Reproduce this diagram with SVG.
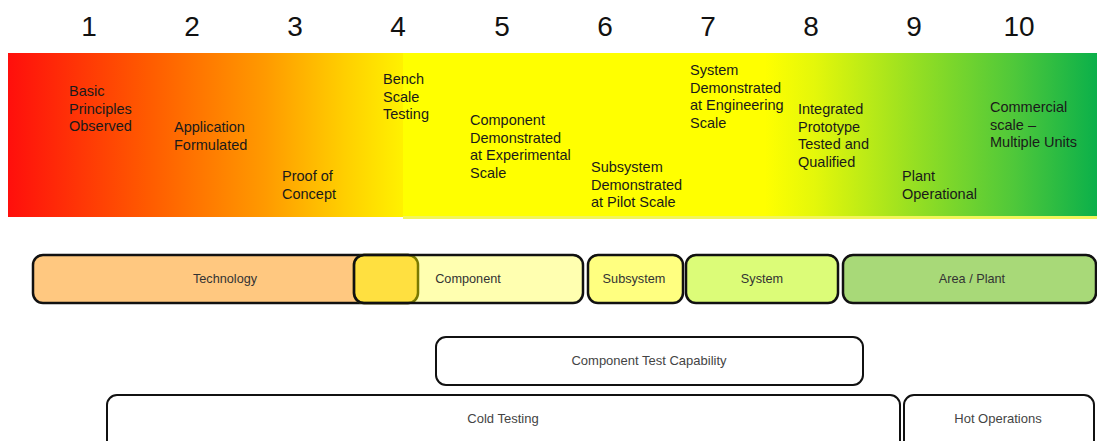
<svg xmlns="http://www.w3.org/2000/svg" width="1097" height="441" viewBox="0 0 1097 441">
<defs>
<linearGradient id="gL" x1="0" y1="0" x2="1" y2="0">
<stop offset="0" stop-color="#ff0f0c"/>
<stop offset="0.35" stop-color="#ff5a00"/>
<stop offset="0.65" stop-color="#ff9a00"/>
<stop offset="0.85" stop-color="#ffcf00"/>
<stop offset="1" stop-color="#fff200"/>
</linearGradient>
<linearGradient id="gR" x1="0" y1="0" x2="1" y2="0">
<stop offset="0" stop-color="#ffff00"/>
<stop offset="0.15" stop-color="#e4f70a"/>
<stop offset="0.45" stop-color="#96df22"/>
<stop offset="0.75" stop-color="#4fc83a"/>
<stop offset="1" stop-color="#0bb04a"/>
</linearGradient>
<style>
.num{font-family:"Liberation Sans",Arial,sans-serif;font-size:28px;fill:#111;text-anchor:middle}
.lbl{font-family:"Liberation Sans",Arial,sans-serif;font-size:14.5px;fill:#1a1a1a}
.box{stroke:#111;stroke-width:2.5}
.btxt{font-family:"Liberation Sans",Arial,sans-serif;font-size:12.7px;fill:#333;text-anchor:middle}
.wbox{fill:#fff;stroke:#111;stroke-width:2}
.wtxt{font-family:"Liberation Sans",Arial,sans-serif;font-size:13px;fill:#444;text-anchor:middle}
</style>
</defs>
<rect width="1097" height="441" fill="#fff"/>
<g id="scale">
<rect x="8" y="53" width="396" height="164" fill="url(#gL)"/>
<rect x="403" y="53" width="363" height="164" fill="#ffff00"/>
<rect x="765" y="53" width="332" height="164" fill="url(#gR)"/>
<rect x="403" y="216" width="694" height="3" fill="#f2f55a"/>
</g>
<g id="numbers">
<text class="num" x="89" y="36">1</text>
<text class="num" x="192" y="36">2</text>
<text class="num" x="295" y="36">3</text>
<text class="num" x="398" y="36">4</text>
<text class="num" x="502" y="36">5</text>
<text class="num" x="605" y="36">6</text>
<text class="num" x="708" y="36">7</text>
<text class="num" x="811" y="36">8</text>
<text class="num" x="914" y="36">9</text>
<text class="num" x="1019" y="36">10</text>
</g>
<g id="labels">
<text class="lbl" x="69" y="96">Basic<tspan x="69" dy="17.6">Principles</tspan><tspan x="69" dy="17.6">Observed</tspan></text>
<text class="lbl" x="174" y="132">Application<tspan x="174" dy="17.6">Formulated</tspan></text>
<text class="lbl" x="282" y="181">Proof of<tspan x="282" dy="17.6">Concept</tspan></text>
<text class="lbl" x="383" y="84">Bench<tspan x="383" dy="17.6">Scale</tspan><tspan x="383" dy="17.6">Testing</tspan></text>
<text class="lbl" x="470" y="125">Component<tspan x="470" dy="17.6">Demonstrated</tspan><tspan x="470" dy="17.6">at Experimental</tspan><tspan x="470" dy="17.6">Scale</tspan></text>
<text class="lbl" x="591" y="172">Subsystem<tspan x="591" dy="17.6">Demonstrated</tspan><tspan x="591" dy="17.6">at Pilot Scale</tspan></text>
<text class="lbl" x="690" y="75">System<tspan x="690" dy="17.6">Demonstrated</tspan><tspan x="690" dy="17.6">at Engineering</tspan><tspan x="690" dy="17.6">Scale</tspan></text>
<text class="lbl" x="798" y="114">Integrated<tspan x="798" dy="17.6">Prototype</tspan><tspan x="798" dy="17.6">Tested and</tspan><tspan x="798" dy="17.6">Qualified</tspan></text>
<text class="lbl" x="902" y="181">Plant<tspan x="902" dy="17.6">Operational</tspan></text>
<text class="lbl" x="990" y="112">Commercial<tspan x="990" dy="17.6">scale –</tspan><tspan x="990" dy="17.6">Multiple Units</tspan></text>
</g>
<g id="technology">
<rect class="box" x="33" y="255" width="385" height="48" rx="10" fill="#ffc880"/>
<text class="btxt" x="225" y="283">Technology</text>
</g>
<g id="component">
<rect x="354" y="255" width="229" height="48" rx="10" fill="#ffffb0"/>
<rect x="354" y="255" width="64" height="48" rx="10" fill="#ffe040" stroke="#7a7a00" stroke-width="2.5"/>
<rect x="354" y="255" width="229" height="48" rx="10" fill="none" class="box"/>
<text class="btxt" x="468" y="283">Component</text>
</g>
<g id="subsystem">
<rect class="box" x="588" y="255" width="95" height="48" rx="10" fill="#ffff80"/>
<text class="btxt" x="634" y="283">Subsystem</text>
</g>
<g id="system">
<rect class="box" x="686" y="255" width="152" height="48" rx="10" fill="#dcfc78"/>
<text class="btxt" x="762" y="283">System</text>
</g>
<g id="area-plant">
<rect class="box" x="843" y="255" width="253" height="48" rx="10" fill="#a8d978"/>
<text class="btxt" x="972" y="283">Area / Plant</text>
</g>
<g id="component-test">
<rect class="wbox" x="436" y="337" width="427" height="48" rx="10"/>
<text class="wtxt" x="649" y="365">Component Test Capability</text>
</g>
<g id="cold-testing">
<rect class="wbox" x="107" y="395" width="793" height="60" rx="10"/>
<text class="wtxt" x="503" y="423">Cold Testing</text>
</g>
<g id="hot-operations">
<rect class="wbox" x="904" y="395" width="190" height="60" rx="10"/>
<text class="wtxt" x="998" y="423">Hot Operations</text>
</g>
<g id="connectors"/>
</svg>
